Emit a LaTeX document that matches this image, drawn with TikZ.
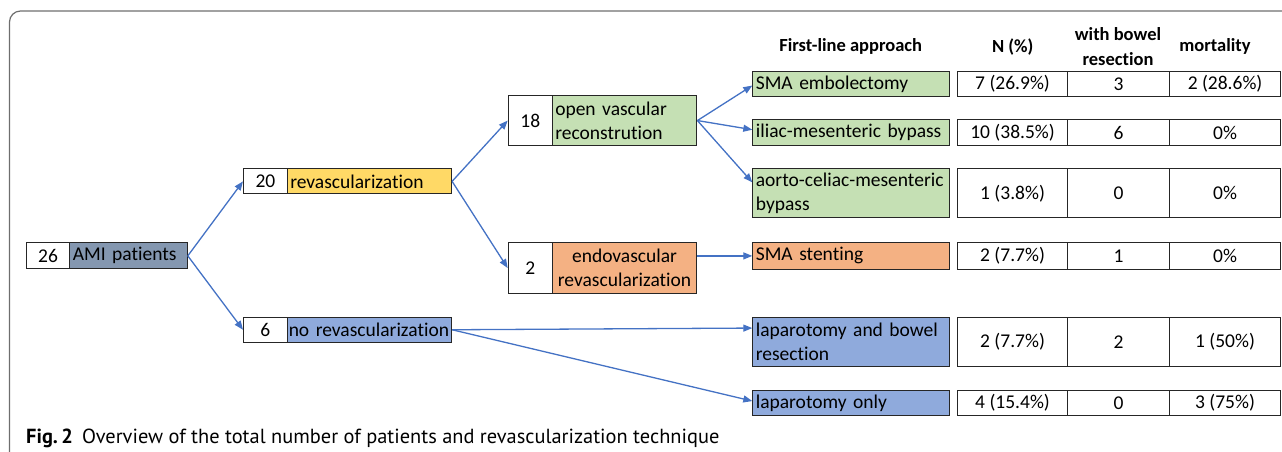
\documentclass[tikz,border=0pt]{standalone}
\usepackage{fontspec}
\setmainfont{Carlito}[Ligatures={NoCommon,NoRare,NoDiscretionary}]
\newfontfamily\capfont{PT Sans}
\usetikzlibrary{arrows.meta}
\definecolor{amiC}{HTML}{8497B0}
\definecolor{yelC}{HTML}{FFD966}
\definecolor{bluC}{HTML}{8FAADC}
\definecolor{grnC}{HTML}{C5E0B4}
\definecolor{orgC}{HTML}{F4B183}
\definecolor{arrC}{HTML}{4472C4}
\definecolor{frameC}{HTML}{6E6E6E}
\newcommand\boxfont{\fontsize{19.5}{23.8}\selectfont}
\newcommand\headfont{\bfseries\fontsize{18.5}{24.5}\selectfont}
\begin{document}
\begin{tikzpicture}[x=1pt,y=-1pt,
  box/.style={draw=black!85, line width=1.1pt, inner ysep=0pt, inner xsep=3pt, font=\boxfont, anchor=north west},
  numbox/.style={box, fill=white, align=center},
  labbox/.style={box, align=left},
  cell/.style={box, fill=white, align=center},
  head/.style={font=\headfont, align=center, inner sep=0pt},
  arr/.style={draw=arrC, line width=1.3pt, -{Triangle[length=9pt,width=7pt]}}]
\useasboundingbox (0,0) rectangle (1282,451);
\draw[frameC, line width=1.2pt, rounded corners=11pt] (9.5,470) -- (9.5,11) -- (1300,11);

% level 0
\node[numbox, minimum width=43.6pt, minimum height=26pt] (n26) at (25.7,242.3) {26};
\node[labbox, fill=amiC, minimum width=117.4pt, minimum height=26pt, text width=111.4pt] (ami) at (69.3,242.3) {AMI patients};
% level 1
\node[numbox, minimum width=43.7pt, minimum height=25pt] (n20) at (243,168.3) {20};
\node[labbox, fill=yelC, minimum width=164.3pt, minimum height=25pt, text width=158.3pt] (rev) at (286.7,168.3) {revascularization};
\node[numbox, minimum width=43.7pt, minimum height=25pt] (n6) at (243,316.7) {6};
\node[labbox, fill=bluC, minimum width=164.3pt, minimum height=25pt, text width=161.3pt, inner xsep=1.5pt] (norev) at (286.7,316.7) {\mbox{no revascularization}};
% level 2
\node[numbox, minimum width=44pt, minimum height=49.4pt] (n18) at (507.7,95.3) {18};
\node[labbox, fill=grnC, minimum width=144.6pt, minimum height=49.4pt, text width=138.6pt] (open) at (551.7,95.3) {open vascular\\reconstrution};
\node[numbox, minimum width=44pt, minimum height=51.6pt] (n2) at (507.7,241.7) {2};
\node[box, fill=orgC, align=center, minimum width=144.6pt, minimum height=51.6pt, text width=138.6pt] (endo) at (551.7,241.7) {endovascular\\revascularization};
% headers
\node[head] (h1) at (850.7,46.7) {First-line approach};
\node[head] (h2) at (1012.7,46.7) {N (\%)};
\node[head] (h3) at (1118,46.7) {with bowel\\resection};
\node[head] (h4) at (1215,46.7) {mortality};
% level 3
\node[labbox, fill=grnC, minimum width=196.4pt, minimum height=25pt, text width=190.4pt] (sma) at (752.3,71) {SMA embolectomy};
\node[labbox, fill=grnC, minimum width=196.4pt, minimum height=25.7pt, text width=190.4pt] (ili) at (752.3,119.3) {iliac-mesenteric bypass};
\node[labbox, fill=grnC, minimum width=196.4pt, minimum height=49pt, text width=190.4pt] (aor) at (752.3,168.3) {aorto-celiac-mesenteric\\bypass};
\node[labbox, fill=orgC, minimum width=196.4pt, minimum height=26.7pt, text width=190.4pt] (stent) at (752.3,242) {SMA stenting};
\node[labbox, fill=bluC, minimum width=196.4pt, minimum height=49pt, text width=190.4pt] (lapb) at (752.3,317) {laparotomy and bowel\\resection};
\node[labbox, fill=bluC, minimum width=196.4pt, minimum height=25pt, text width=190.4pt] (lapo) at (752.3,390) {laparotomy only};
% table cells
\foreach \y/\h/\a/\b/\c/\nm in {71/25/7 (26.9\%)/3/2 (28.6\%)/r1, 119.3/25.7/10 (38.5\%)/6/0\%/r2, 168.3/49/1 (3.8\%)/0/0\%/r3, 242/26.7/2 (7.7\%)/1/0\%/r4, 317/49/2 (7.7\%)/2/1 (50\%)/r5, 390/25/4 (15.4\%)/0/3 (75\%)/r6}{
  \node[cell, minimum width=110pt, minimum height=\h pt] (\nm a) at (957,\y) {\a};
  \node[cell, minimum width=102pt, minimum height=\h pt] (\nm b) at (1067,\y) {\b};
  \node[cell, minimum width=111pt, minimum height=\h pt] (\nm c) at (1169,\y) {\c};
}
% connectors
\draw[arr] (ami.east) -- (n20.west);
\draw[arr] (ami.east) -- (n6.west);
\draw[arr] (rev.east) -- (n18.west);
\draw[arr] (rev.east) -- (n2.west);
\draw[arr] (open.east) -- ([yshift=-1.5pt]sma.west);
\draw[arr] (open.east) -- ([yshift=3pt]ili.west);
\draw[arr] (open.east) -- ([yshift=11pt]aor.west);
\draw[arr] (endo.east |- stent.west) -- (stent.west);
\draw[arr] (norev.east) -- ([yshift=14pt]lapb.west);
\draw[arr] (norev.east) -- ([yshift=2pt]lapo.west);
% caption
\node[anchor=base west, inner sep=0pt, font=\capfont\fontsize{20.4}{24}\selectfont] (cap) at (26,443.3) {\textbf{Fig.\,2}\hspace{0.45em}Overview of the total number of patients and revascularization technique};
\end{tikzpicture}
\end{document}
